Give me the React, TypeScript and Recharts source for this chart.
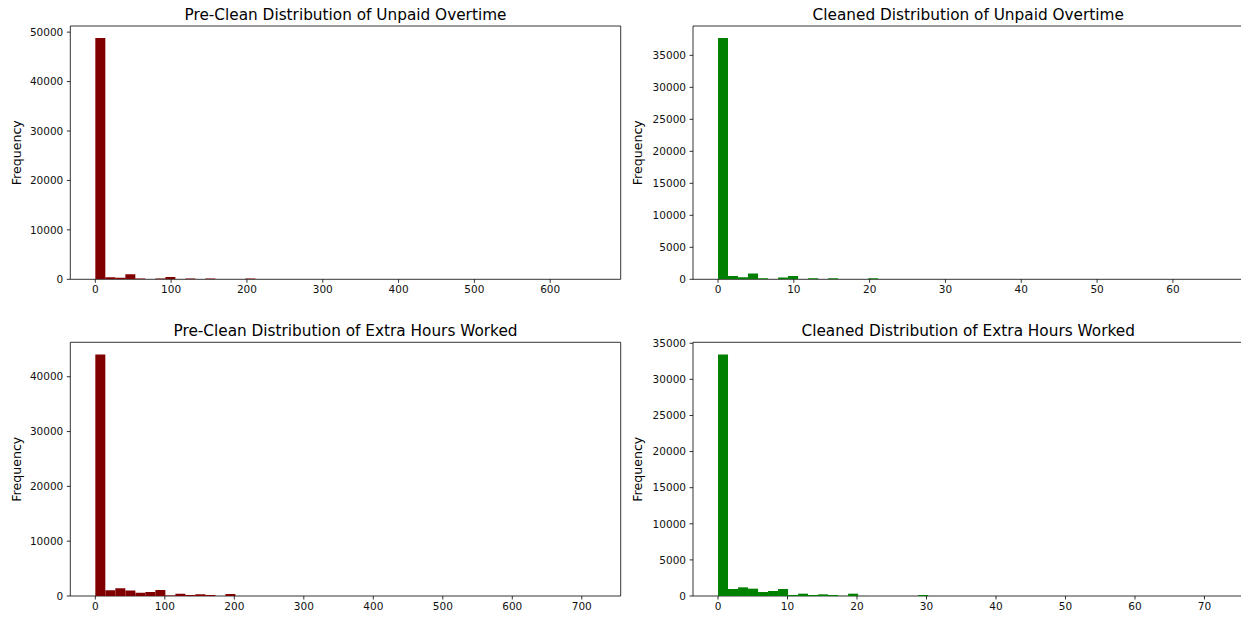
import React from 'react';
import { BarChart, Bar, XAxis, YAxis, ReferenceArea } from 'recharts';

// ---- Data (histogram counts, 50 equal-width bins from 0 to the column max) ----
const preUnpaidMax = 660;
const preUnpaidCounts = [
  48800, 430, 300, 1000, 150, 20, 180, 480, 30, 140,
  10, 140, 5, 5, 10, 140, 3, 2, 3, 1,
  2, 1, 6, 1, 0, 1, 0, 1, 0, 2,
  0, 0, 1, 0, 0, 1, 0, 0, 0, 1,
  0, 0, 0, 0, 0, 1, 0, 0, 0, 1,
];
const preUnpaidXTicks = [0, 100, 200, 300, 400, 500, 600];
const preUnpaidYTicks = [0, 10000, 20000, 30000, 40000, 50000];

const cleanUnpaidMax = 66;
const cleanUnpaidCounts = [
  37700, 520, 310, 890, 170, 20, 270, 520, 30, 160,
  10, 160, 5, 5, 8, 160, 3, 2, 3, 1,
  2, 1, 5, 1, 0, 1, 0, 1, 0, 2,
  0, 0, 1, 0, 0, 1, 0, 0, 0, 1,
  0, 0, 0, 0, 0, 1, 0, 0, 0, 1,
];
const cleanUnpaidXTicks = [0, 10, 20, 30, 40, 50, 60];
const cleanUnpaidYTicks = [0, 5000, 10000, 15000, 20000, 25000, 30000, 35000];

const preExtraMax = 720;
const preExtraCounts = [
  44080, 1030, 1400, 1000, 600, 730, 1090, 80, 420, 180,
  300, 180, 20, 365, 10, 5, 4, 3, 2, 2,
  6, 1, 1, 0, 1, 0, 1, 0, 0, 1,
  0, 0, 1, 0, 0, 0, 1, 0, 0, 0,
  1, 0, 0, 0, 0, 0, 0, 0, 0, 1,
];
const preExtraXTicks = [0, 100, 200, 300, 400, 500, 600, 700];
const preExtraYTicks = [0, 10000, 20000, 30000, 40000];

const cleanExtraMax = 72;
const cleanExtraCounts = [
  33460, 970, 1200, 1015, 550, 690, 970, 140, 320, 140,
  230, 140, 15, 320, 10, 5, 4, 3, 2, 2,
  140, 1, 1, 0, 1, 0, 1, 0, 0, 1,
  0, 0, 1, 0, 0, 0, 1, 0, 0, 0,
  1, 0, 0, 0, 0, 0, 0, 0, 0, 1,
];
const cleanExtraXTicks = [0, 10, 20, 30, 40, 50, 60, 70];
const cleanExtraYTicks = [0, 5000, 10000, 15000, 20000, 25000, 30000, 35000];

const titles = [
  'Pre-Clean Distribution of Unpaid Overtime',
  'Cleaned Distribution of Unpaid Overtime',
  'Pre-Clean Distribution of Extra Hours Worked',
  'Cleaned Distribution of Extra Hours Worked',
];
const yLabel = 'Frequency';

const FONT = 'DejaVu Sans, sans-serif';
const MAROON = '#800000';
const GREEN = '#008000';

function buildBins(max: number, counts: number[]) {
  const w = max / counts.length;
  return counts.map((c, i) => ({ x: w * (i + 0.5), count: c }));
}

type PanelProps = {
  left: number;
  top: number;
  marginTop: number;
  axisW: number;
  xAxisH: number;
  max: number;
  counts: number[];
  xTicks: number[];
  yTicks: number[];
  color: string;
};

const CW = 640;
const CH = 310;
const PLOT_W = 550.4;

function Panel(p: PanelProps) {
  const data = buildBins(p.max, p.counts);
  const ymax = Math.max(...p.counts) * 1.05;
  const xmin = -0.05 * p.max;
  const xmax = 1.05 * p.max;
  const tickStyle = { fill: '#111', fontSize: 10.5, fontFamily: FONT };
  const tickLine = { stroke: '#000', strokeWidth: 0.8 };
  return (
    <div style={{ position: 'absolute', left: p.left, top: p.top }}>
      <BarChart
        width={CW}
        height={CH}
        data={data}
        barCategoryGap={0}
        barGap={0}
        margin={{ top: p.marginTop, left: 0, right: CW - p.axisW - PLOT_W, bottom: 0 }}
      >
        <XAxis
          type="number"
          dataKey="x"
          domain={[xmin, xmax]}
          ticks={p.xTicks}
          interval={0}
          height={p.xAxisH}
          tick={tickStyle}
          tickLine={tickLine}
          tickSize={3.5}
          tickMargin={3}
          axisLine={false}
          allowDataOverflow
        />
        <YAxis
          type="number"
          domain={[0, ymax]}
          ticks={p.yTicks}
          interval={0}
          width={p.axisW}
          tick={tickStyle}
          tickLine={tickLine}
          tickSize={3.5}
          tickMargin={3.5}
          axisLine={false}
          allowDataOverflow
        />
        <Bar dataKey="count" fill={p.color} isAnimationActive={false} />
        <ReferenceArea
          x1={xmin}
          x2={xmax}
          y1={0}
          y2={ymax}
          fill="none"
          fillOpacity={0}
          stroke="#000"
          strokeWidth={0.8}
          ifOverflow="visible"
        />
      </BarChart>
    </div>
  );
}

export default function App() {
  const leftCenter = 70.3 + PLOT_W / 2;
  const rightCenter = 693 + PLOT_W / 2;
  return (
    <div
      style={{
        position: 'absolute',
        left: 0,
        top: 0,
        width: 1241,
        height: 617,
        overflow: 'hidden',
        background: '#fff',
        fontFamily: FONT,
      }}
    >
      <Panel left={0} top={0} marginTop={26} axisW={70.3} xAxisH={CH - 279.3} max={preUnpaidMax}
        counts={preUnpaidCounts} xTicks={preUnpaidXTicks} yTicks={preUnpaidYTicks} color={MAROON} />
      <Panel left={622} top={0} marginTop={26} axisW={71} xAxisH={CH - 279.3} max={cleanUnpaidMax}
        counts={cleanUnpaidCounts} xTicks={cleanUnpaidXTicks} yTicks={cleanUnpaidYTicks} color={GREEN} />
      <Panel left={0} top={316} marginTop={26.3} axisW={70.3} xAxisH={CH - 280} max={preExtraMax}
        counts={preExtraCounts} xTicks={preExtraXTicks} yTicks={preExtraYTicks} color={MAROON} />
      <Panel left={622} top={316} marginTop={26.3} axisW={71} xAxisH={CH - 280} max={cleanExtraMax}
        counts={cleanExtraCounts} xTicks={cleanExtraXTicks} yTicks={cleanExtraYTicks} color={GREEN} />
      <svg
        width={1241}
        height={617}
        style={{ position: 'absolute', left: 0, top: 0, pointerEvents: 'none' }}
      >
        <g fontFamily={FONT} fill="#000">
          <text x={leftCenter} y={19.7} fontSize={15.3} textAnchor="middle">{titles[0]}</text>
          <text x={rightCenter} y={19.7} fontSize={15.3} textAnchor="middle">{titles[1]}</text>
          <text x={leftCenter} y={336} fontSize={15.3} textAnchor="middle">{titles[2]}</text>
          <text x={rightCenter} y={336} fontSize={15.3} textAnchor="middle">{titles[3]}</text>
          <text transform="translate(20.5,152.7) rotate(-90)" fontSize={12.6} textAnchor="middle">{yLabel}</text>
          <text transform="translate(642,152.7) rotate(-90)" fontSize={12.6} textAnchor="middle">{yLabel}</text>
          <text transform="translate(20.5,469.2) rotate(-90)" fontSize={12.6} textAnchor="middle">{yLabel}</text>
          <text transform="translate(642,469.2) rotate(-90)" fontSize={12.6} textAnchor="middle">{yLabel}</text>
        </g>
      </svg>
    </div>
  );
}
